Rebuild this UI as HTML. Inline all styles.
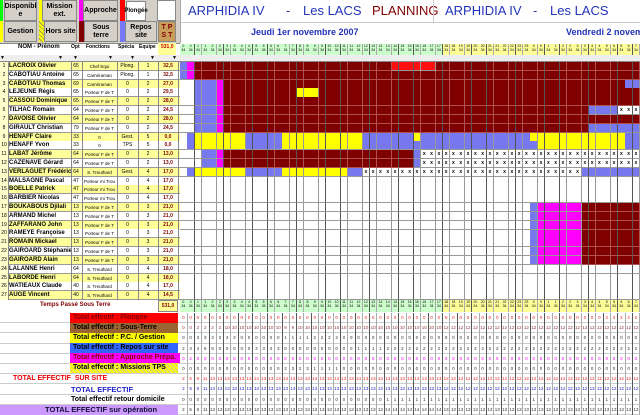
<!DOCTYPE html>
<html><head><meta charset="utf-8"><style>
body{margin:0;width:640px;height:415px;overflow:hidden;background:#fff;font-family:"Liberation Sans",sans-serif;position:relative}
div{box-sizing:border-box}
.a{position:absolute}
.btn{position:absolute;background:#d4d0c8;border:1px solid #888;font-weight:bold;font-size:7px;text-align:center;display:flex;align-items:center;justify-content:center;line-height:8px}
.r{position:absolute;left:0;width:180px;height:9px;font-size:5px;display:flex;align-items:center}
.r span{position:absolute;top:0;height:9px;line-height:9px;border-right:1px solid #888;overflow:hidden;white-space:nowrap;text-align:center}
.t{position:absolute;font-weight:bold;font-size:9px;white-space:nowrap}
.tt{position:absolute;top:3px;font-size:13px;color:#2233bb;white-space:nowrap}
.lb{position:absolute;left:70px;width:108px;height:10px;font-size:7px;font-weight:bold;padding-left:3px;line-height:10px;white-space:nowrap;overflow:hidden}
</style></head><body>
<div class="a" style="left:0;top:0;width:180px;height:43px;background:#d4d0c8"></div>
<div class="a" style="left:0;top:0;width:3px;height:21px;background:#0f0"></div>
<div class="btn" style="left:4px;top:0;width:33px;height:21px">Disponibl e</div>
<div class="a" style="left:39px;top:0;width:3px;height:21px;background:#ff0"></div>
<div class="btn" style="left:42px;top:0;width:35px;height:21px">Mission ext.</div>
<div class="a" style="left:79px;top:0;width:4px;height:21px;background:#f0f"></div>
<div class="btn" style="left:83px;top:0;width:35px;height:21px">Approche</div>
<div class="a" style="left:120px;top:0;width:5px;height:21px;background:#f00"></div>
<div class="btn" style="left:126px;top:1px;width:20px;height:20px;background:#fff;font-size:6px">Plongée</div>
<div class="a" style="left:157px;top:0;width:19px;height:21px;background:#fff;border:1px solid #888"></div>
<div class="a" style="left:0;top:21px;width:3px;height:21px;background:#ff0"></div>
<div class="btn" style="left:4px;top:21px;width:33px;height:21px">Gestion</div>
<div class="a" style="left:39px;top:21px;width:5px;height:21px;background:repeating-linear-gradient(45deg,#ff0 0 2px,#996 2px 3px)"></div>
<div class="btn" style="left:44px;top:21px;width:33px;height:21px">Hors site</div>
<div class="a" style="left:79px;top:21px;width:5px;height:21px;background:#800000"></div>
<div class="btn" style="left:84px;top:21px;width:34px;height:21px">Sous terre</div>
<div class="a" style="left:120px;top:21px;width:5px;height:21px;background:#77f"></div>
<div class="btn" style="left:125px;top:21px;width:32px;height:21px">Repos site</div>
<div class="btn" style="left:158px;top:21px;width:18px;height:21px;background:#c89c5a;color:#800000;font-size:7px">T P S T</div>
<div class="a" style="left:180px;top:22px;width:460px;height:1px;background:#ccc"></div>
<div class="a" style="left:180px;top:0;width:1px;height:43px;background:#aaa"></div>
<div class="tt" style="left:188px">ARPHIDIA IV</div>
<div class="tt" style="left:286px">-</div>
<div class="tt" style="left:303px">Les LACS</div>
<div class="tt" style="left:372px;color:#800000">PLANNING</div>
<div class="a" style="left:433px;top:0;width:1px;height:22px;background:#ccc"></div>
<div class="tt" style="left:445px">ARPHIDIA IV</div>
<div class="tt" style="left:533px">-</div>
<div class="tt" style="left:550px">Les LACS</div>
<div class="t" style="left:251px;top:27px;font-size:9px;color:#2233bb">Jeudi 1er novembre 2007</div>
<div class="t" style="left:566px;top:27px;font-size:9px;color:#2233bb">Vendredi 2 novembre</div>
<div class="a" style="left:0;top:43px;width:180px;height:18px;background:#fff;border-top:1px solid #888"></div>
<div class="t" style="left:18px;top:44px;font-size:6px">NOM - Prénom</div>
<div class="t" style="left:71px;top:44px;font-size:5px">Opt</div>
<div class="t" style="left:86px;top:44px;font-size:5px">Fonctions</div>
<div class="t" style="left:118px;top:44px;font-size:5px">Spécia</div>
<div class="t" style="left:139px;top:44px;font-size:5px">Equipe</div>
<div class="a" style="left:158px;top:43px;width:18px;height:12px;background:#ffff99"></div>
<div class="t" style="left:161px;top:44px;font-size:5px;color:#c00">531,0</div>
<div id="L"></div>
<div id="G"></div>
<div class="t" style="left:40px;top:302px;font-size:6px;color:#800000">Temps Passé Sous Terre</div>
<div class="a" style="left:158px;top:300px;width:20px;height:12px;background:#ffff99;border:1px solid #888;font-size:5px;font-weight:bold;color:#800000;text-align:center;line-height:10px">531,0</div>
<div class="lb" style="top:313px;background:#f00;color:#800000">Total effectif : Plongée</div>
<div class="lb" style="top:323px;background:#996633;color:#000">Total effectif : Sous-Terre</div>
<div class="lb" style="top:333px;background:#ff0;color:#000">Total effectif : P.C. / Gestion</div>
<div class="lb" style="top:343px;background:#3366ff;color:#000">Total effectif : Repos sur site</div>
<div class="lb" style="top:353px;width:110px;background:#f0f;color:#800000">Total effectif : Approche Prépa.</div>
<div class="lb" style="top:363px;background:repeating-linear-gradient(45deg,#ff0 0 2px,#cc9 2px 3px);color:#000">Total effectif : Missions TPS</div>
<div class="t" style="left:13px;top:375px;font-size:7px;color:#e00">TOTAL EFFECTIF&nbsp; SUR SITE</div>
<div class="t" style="left:71px;top:385px;font-size:7.5px;color:#22c">TOTAL EFFECTIF</div>
<div class="t" style="left:71px;top:396px;font-size:7px;color:#000">Total effectif retour domicile</div>
<div class="a" style="left:0;top:405px;width:178px;height:10px;background:#cc99ff"></div>
<div class="t" style="left:45px;top:405px;font-size:7.5px;color:#113">TOTAL EFFECTIF sur opération</div>
<script>
var rows=[["LACROIX Olivier",65,"Chef Equi","Plong.",1,"32,5"],["CABOTIAU Antoine",65,"Caméraman","Plong.",1,"32,5"],["CABOTIAU Thomas",69,"Caméraman",0,2,"27,0"],["LEJEUNE Régis",65,"Porteur F de T",0,2,"29,5"],["CASSOU Dominique",65,"Porteur F de T",0,2,"28,0"],["TILHAC Romain",64,"Porteur F de T",0,2,"24,5"],["DAVOISE Olivier",64,"Porteur F de T",0,2,"28,0"],["GIRAULT Christian",79,"Porteur F de T",0,2,"24,5"],["HENAFF Claire",33,0,"Gest.",5,"0,0"],["HENAFF Yvon",33,0,"TPS",5,"0,0"],["LABAT Jérôme",64,"Porteur F de T",0,2,"13,0"],["CAZENAVE Gérard",64,"Porteur F de T",0,2,"13,0"],["VERLAGUET Frédéric",64,"S. Treuthard","Gest.",4,"17,0"],["MALSAGNE Pascal",47,"Porteur mi Trou",0,4,"17,0"],["BOELLE Patrick",47,"Porteur mi Trou",0,4,"17,0"],["BARBIER Nicolas",47,"Porteur mi Trou",0,4,"17,0"],["BOUKABOUS Djilali",13,"Porteur F de T",0,3,"21,0"],["ARMAND Michel",13,"Porteur F de T",0,3,"21,0"],["ZAFFARANO John",13,"Porteur F de T",0,3,"21,0"],["RAMEYE Françoise",13,"Porteur F de T",0,3,"21,0"],["ROMAIN Mickael",13,"Porteur F de T",0,3,"21,0"],["GAIROARD Stéphanie",13,"Porteur F de T",0,3,"21,0"],["GAIROARD Alain",13,"Porteur F de T",0,3,"21,0"],["LALANNE Henri",64,"S. Treuthard",0,4,"18,0"],["LABORDE Henri",64,"S. Treuthard",0,4,"18,0"],["WATIEAUX Claude",40,"S. Treuthard",0,4,"17,0"],["AUGE Vincent",40,"S. Treuthard",0,4,"14,5"]];
var H=8.815,Y0=62,h="";
h+='<div class="a" style="left:0;top:55px;width:640px;height:7px;background:#eee;border-bottom:1px solid #888"></div>';
[4,62,77,112,134,154,176].forEach(function(x){h+='<div class="a" style="left:'+(x-4)+'px;top:55px;font-size:5px;line-height:6px">▼</div>'});
rows.forEach(function(r,i){var y=Y0+i*H,bg=i%2==0?"#ffff99":"#fff";
h+='<div class="r" style="top:'+y+'px;background:'+bg+';border-bottom:1px solid #999">'+
'<span style="left:0;width:8px;background:#ffffcc">'+(i+1)+'</span>'+
'<span style="left:8px;width:62px;text-align:left;padding-left:1px;font-weight:bold;font-size:6px">'+r[0]+'</span>'+
'<span style="left:70px;width:12px">'+r[1]+'</span><span style="left:82px;width:35px;font-size:4.5px">'+r[2]+'</span>'+
'<span style="left:117px;width:21px">'+r[3]+'</span><span style="left:138px;width:20px">'+r[4]+'</span>'+
'<span style="left:158px;width:20px;font-weight:bold;color:#800000">'+r[5]+'</span></div>';});
document.getElementById("L").innerHTML=h;
var W=7.3,X0=180,N=63,B="#7777ee",M="#ff00ff",D="#800000",Yl="#ffff00",R="#ff1010",X="x";
function row(segs){var a=[];for(var c=0;c<N;c++)a.push(null);segs.forEach(function(s){for(var c=s[0];c<=s[1]&&c<N;c++)a[c]=s[2]});return a}
var G=[];
G[0]=row([[0,0,B],[1,1,M],[2,62,D],[29,34,R]]);
G[1]=row([[0,0,B],[1,1,M],[2,62,D]]);
var base=[[2,4,B],[5,5,M],[6,62,D]];
G[2]=row(base.concat([[61,62,B]]));
G[3]=row(base.concat([[16,18,Yl]]));
G[4]=row(base);
G[5]=row(base.concat([[56,59,B],[60,62,X]]));
G[6]=row(base);
G[7]=row(base.concat([[56,62,B]]));
G[8]=row([[1,1,B],[2,8,Yl],[9,13,B],[14,24,Yl],[25,31,B],[32,32,Yl],[33,47,B],[48,60,Yl],[61,62,B]]);
G[9]=row([[1,1,B],[2,8,Yl],[9,13,B],[14,24,Yl],[25,48,B],[49,60,Yl],[61,62,B]]);
G[10]=row([[3,4,B],[5,5,M],[6,31,D],[32,32,B],[33,62,X]]);
G[11]=row([[3,4,B],[5,5,M],[6,31,D],[32,32,B],[33,62,X]]);
G[12]=row([[1,1,B],[2,8,Yl],[9,13,B],[14,22,Yl],[23,24,B],[25,54,X],[55,62,B]]);
for(var i=16;i<=22;i++)G[i]=row([[48,48,B],[49,54,M],[55,62,D]]);
var g="";
for(var i=0;i<27;i++){var a=G[i]||row([]);for(var c=0;c<N;c++){var v=a[c],x=X0+c*W,y=Y0+i*H;
var bc=v==D?"#b05050":"#999",col=(v&&v!=X)?v:"#fff";
g+='<div class="a" style="left:'+x.toFixed(1)+'px;top:'+y.toFixed(1)+'px;width:'+(W+0.4).toFixed(1)+'px;height:'+(H+0.4).toFixed(1)+'px;background:'+col+';border-right:1px solid '+(c%2?"#555":bc)+';border-bottom:1px solid '+bc+';font-size:5px;font-weight:bold;text-align:center;line-height:8px">'+(v==X?'x':'')+'</div>';}}
for(var c=0;c<N;c++){var x=X0+c*W,hc=c<36?"#ccffcc":"#ffff99";
g+='<div class="a" style="left:'+x.toFixed(1)+'px;top:44px;width:'+(W+0.4).toFixed(1)+'px;height:11px;background:'+hc+';border-right:1px solid '+(c%2?"#555":"#aaa")+';font-size:3.5px;line-height:4px;text-align:center">'+(Math.floor(c/2)%24)+'<br>34</div>';
g+='<div class="a" style="left:'+x.toFixed(1)+'px;top:300px;width:'+(W+0.4).toFixed(1)+'px;height:12px;background:'+hc+';border-right:1px solid '+(c%2?"#555":"#aaa")+';font-size:3.5px;line-height:4px;text-align:center">'+(Math.floor(c/2)%24)+'<br>34</div>';}
function seq(f){var a=[];for(var c=0;c<N;c++)a.push(f(c));return a}
var st=seq(function(c){return c<2?0:c<6?2:c<36?(c>=14&&c<16?9:10):12});
var pc=seq(function(c){return c<2?0:c<8?3:c<14?0:c<18?1:c<22?2:0});
var rp=seq(function(c){return c==0?2:c==1?3:c==2?4:c==3?6:c==4?8:c<10?0:c<14?3:c<24?0:c<28?1:2});
var ap=seq(function(c){return c==1?2:0});
var ms=seq(function(c){return c>=14&&c<18?(c%2?3:2):c>=18&&c<22?1:0});
var ss=seq(function(c){return c==0?2:c==1?5:c==2?9:c<4?11:c<36?13:12});
var rd=seq(function(c){return c>=28?1:0});
var pl=seq(function(c){return c>=58?2:0});
var BR=[[pl,"#e22"],[st,"#933"],[pc,"#333"],[rp,"#333"],[ap,"#e0e"],[ms,"#333"],[ss,"#e22"],[ss,"#22c"],[rd,"#333"],[seq(function(c){return ss[c]+rd[c]}),"#333"]];
var BH=10.2;
BR.forEach(function(b,i){var y=313+i*BH;
g+='<div class="a" style="left:0;top:'+(y+BH-1).toFixed(1)+'px;width:640px;height:1px;background:#ccc"></div>';
for(var c=0;c<N;c++){var x=X0+c*W;
g+='<div class="a" style="left:'+x.toFixed(1)+'px;top:'+y.toFixed(1)+'px;width:'+(W+0.4).toFixed(1)+'px;height:'+BH+'px;border-right:1px solid '+(c%2?"#555":"#aaa")+';font-size:4.5px;color:'+b[1]+';text-align:center;line-height:'+BH+'px">'+b[0][c]+'</div>';}});
document.getElementById("G").innerHTML=g;
</script>
</body></html>
